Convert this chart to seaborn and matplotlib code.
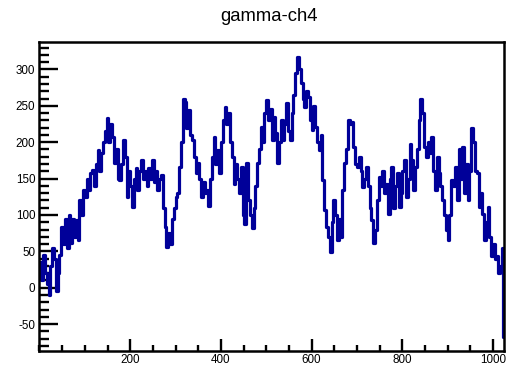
import numpy as np
import pandas as pd
import matplotlib
matplotlib.use("Agg")
import matplotlib.pyplot as plt
import seaborn as sns
from matplotlib.ticker import MultipleLocator

# Histogram contents, grouped in 4-channel bins; the final channel is kept on its own.
counts = [
    35, 10, 45, 20, 5, -10, 30, 54, 40, -5, 20, 45, 84, 60, 95, 55,
    100, 62, 95, 70, 93, 65, 120, 100, 134, 125, 150, 135, 157, 162, 140, 170,
    189, 160, 185, 200, 215, 233, 200, 225, 207, 171, 190, 150, 148, 170, 203, 180,
    125, 160, 140, 111, 150, 165, 135, 160, 175, 150, 160, 140, 165, 150, 175, 145,
    160, 134, 150, 155, 110, 84, 56, 75, 60, 95, 110, 125, 130, 166, 200, 260,
    255, 220, 244, 210, 203, 180, 157, 171, 150, 125, 145, 130, 135, 113, 150, 180,
    207, 170, 189, 157, 200, 230, 249, 225, 240, 200, 180, 143, 170, 150, 130, 166,
    100, 87, 171, 120, 100, 82, 110, 140, 171, 190, 221, 200, 240, 258, 230, 245,
    203, 235, 212, 171, 200, 230, 203, 225, 254, 215, 203, 240, 265, 295, 317, 300,
    281, 260, 249, 270, 262, 230, 217, 250, 221, 200, 189, 210, 148, 107, 84, 70,
    49, 90, 120, 100, 66, 94, 70, 134, 171, 190, 230, 225, 228, 194, 170, 166,
    180, 160, 139, 150, 166, 140, 110, 93, 61, 80, 120, 152, 140, 160, 130, 143,
    102, 150, 166, 110, 140, 157, 111, 130, 160, 175, 125, 150, 198, 175, 134, 166,
    190, 230, 260, 240, 194, 180, 200, 185, 207, 160, 134, 180, 157, 140, 120, 100,
    80, 66, 100, 148, 140, 166, 120, 190, 150, 194, 130, 170, 120, 160, 219, 200,
    160, 157, 111, 130, 102, 66, 90, 111, 70, 43, 60, 40, 43, 20, 30, 55,
    -67,
]
# Left edge of each bin (channel number)
bin_low = list(range(0, 1024, 4)) + [1023]
x_max = 1024

x_ticks = [200, 400, 600, 800, 1000]
y_ticks = [-50, 0, 50, 100, 150, 200, 250, 300]
title = "gamma-ch4"

sns.set_style("ticks")
plt.rcParams["font.family"] = ["Liberation Sans", "DejaVu Sans"]
plt.rcParams["axes.unicode_minus"] = False

# step outline: repeat the last content at the upper edge of the axis
df = pd.DataFrame({"channel": bin_low + [x_max], "counts": counts + [counts[-1]]})

fig = plt.figure(figsize=(5.07, 3.68), dpi=100)
ax = fig.add_axes([0.0779, 0.046, 0.916, 0.8405])

sns.lineplot(data=df, x="channel", y="counts", ax=ax, drawstyle="steps-post",
             estimator=None, sort=False, color="#000099", linewidth=2.3)

ax.set_xlim(0, x_max)
ax.set_ylim(-87, 338)
ax.set_xticks(x_ticks)
ax.set_yticks(y_ticks)
ax.xaxis.set_minor_locator(MultipleLocator(50))
ax.yaxis.set_minor_locator(MultipleLocator(10))
ax.set_xlabel("")
ax.set_ylabel("")

ax.tick_params(axis="both", which="both", direction="in", colors="black",
               labelsize=8.4, width=1.7)
ax.tick_params(axis="y", which="major", length=14, pad=3)
ax.tick_params(axis="y", which="minor", length=7)
ax.tick_params(axis="x", which="major", length=9, pad=2)
ax.tick_params(axis="x", which="minor", length=4.5)
ax.tick_params(top=False, right=False, which="both")

for side in ["left", "bottom", "top", "right"]:
    ax.spines[side].set_visible(True)
    ax.spines[side].set_color("black")
    ax.spines[side].set_linewidth(1.8)

fig.text(0.531, 0.955, title, ha="center", va="center", fontsize=13.3, color="black")

fig.savefig("out.png", dpi=100, facecolor="white")
